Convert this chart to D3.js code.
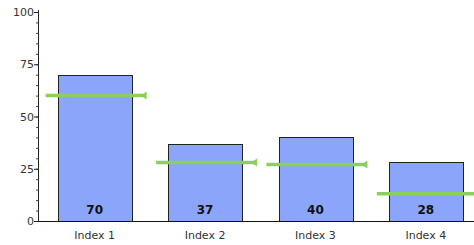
<!DOCTYPE html>
<html>
<head>
<meta charset="utf-8">
<script src="https://cdn.jsdelivr.net/npm/d3@7"></script>
<style>
  html, body { margin: 0; padding: 0; background: #fff; }
  svg { display: block; font-family: "DejaVu Sans", Verdana, sans-serif; }
</style>
</head>
<body>
<svg id="chart" width="474" height="245"></svg>
<script>
// data
var categories = ["Index 1", "Index 2", "Index 3", "Index 4"];
var values = [70, 37, 40, 28];
var targets = [60, 28, 27, 13];
var yTicks = [0, 25, 50, 75, 100];

var W = 474, H = 245;
var svg = d3.select("#chart");

var x = d3.scaleBand().domain(categories).range([39.5, 481]).paddingInner(0.334).paddingOuter(0.167);
var y = d3.scaleLinear().domain([0, 100]).range([221, 12]);

// y axis: minor ticks every 5, major every 25
var gy = svg.append("g").attr("transform", "translate(38,0)");
gy.selectAll("line.minor").data(d3.range(0, 101, 5)).enter().append("line")
  .attr("class", "minor").attr("x1", -2).attr("x2", 0)
  .attr("y1", function (d) { return y(d) + 0.5; }).attr("y2", function (d) { return y(d) + 0.5; })
  .attr("stroke", "#444").attr("stroke-width", 1);
gy.selectAll("line.major").data(yTicks).enter().append("line")
  .attr("x1", -4).attr("x2", 0)
  .attr("y1", function (d) { return y(d) + 0.5; }).attr("y2", function (d) { return y(d) + 0.5; })
  .attr("stroke", "#222").attr("stroke-width", 1);
gy.selectAll("text").data(yTicks).enter().append("text")
  .attr("x", -4).attr("y", function (d) { return y(d) + 4; })
  .attr("text-anchor", "end").attr("font-size", 11).attr("fill", "#333")
  .text(function (d) { return d; });
gy.append("line").attr("x1", 0.5).attr("x2", 0.5).attr("y1", y(100) - 2).attr("y2", y(0))
  .attr("stroke", "#222").attr("stroke-width", 1);

// bars
var bars = svg.append("g");
bars.selectAll("rect").data(values).enter().append("rect")
  .attr("x", function (d, i) { return Math.round(x(categories[i])) + 0.5; })
  .attr("y", function (d) { return Math.round(y(d)) + 0.5; })
  .attr("width", Math.round(x.bandwidth()))
  .attr("height", function (d) { return Math.round(y(0)) - Math.round(y(d)); })
  .attr("fill", "#8aa5f9").attr("stroke", "#222").attr("stroke-width", 1);

// value labels
bars.selectAll("text").data(values).enter().append("text")
  .attr("x", function (d, i) { return x(categories[i]) + x.bandwidth() / 2; })
  .attr("y", 214)
  .attr("text-anchor", "middle").attr("font-size", 12).attr("font-weight", "bold").attr("fill", "#111")
  .text(function (d) { return d; });

// x axis
svg.append("line").attr("x1", 38).attr("x2", W).attr("y1", 221.5).attr("y2", 221.5)
  .attr("stroke", "#111").attr("stroke-width", 1);
svg.append("g").selectAll("text").data(categories).enter().append("text")
  .attr("x", function (d) { return x(d) + x.bandwidth() / 2; })
  .attr("y", 239)
  .attr("text-anchor", "middle").attr("font-size", 11).attr("fill", "#333")
  .text(function (d) { return d; });

// target markers
var tg = svg.append("g");
var half = 50;
tg.selectAll("line").data(targets).enter().append("line")
  .attr("x1", function (d, i) { return x(categories[i]) + x.bandwidth() / 2 - 49; })
  .attr("x2", function (d, i) { return x(categories[i]) + x.bandwidth() / 2 + half; })
  .attr("y1", function (d) { return y(d); }).attr("y2", function (d) { return y(d); })
  .attr("stroke", "#8ccf5a").attr("stroke-width", 3.5);
tg.selectAll("path").data(targets).enter().append("path")
  .attr("d", function (d, i) {
    var cx = x(categories[i]) + x.bandwidth() / 2 + half + 2, cy = y(d);
    return "M" + (cx - 6) + "," + cy + "L" + cx + "," + (cy - 4) + "L" + cx + "," + (cy + 4) + "Z";
  })
  .attr("fill", "#8ccf5a");
</script>
</body>
</html>
